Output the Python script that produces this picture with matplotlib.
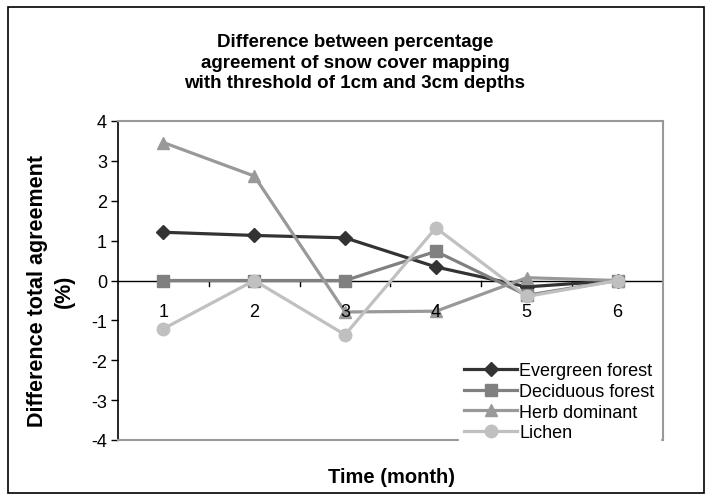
import matplotlib
matplotlib.use("Agg")
import matplotlib.pyplot as plt
from matplotlib.patches import Rectangle

plt.rcParams["font.family"] = ["Liberation Sans", "DejaVu Sans"]

months = [1, 2, 3, 4, 5, 6]
evergreen = [1.21, 1.13, 1.07, 0.34, -0.16, 0.0]
deciduous = [0.0, 0.0, 0.0, 0.73, -0.37, 0.0]
herb = [3.46, 2.62, -0.79, -0.77, 0.07, 0.0]
lichen = [-1.21, 0.0, -1.36, 1.32, -0.40, 0.0]
y_ticks = [-4, -3, -2, -1, 0, 1, 2, 3, 4]

W, H = 712, 502
fig = plt.figure(figsize=(W / 100, H / 100), dpi=100)
fig.patches.append(Rectangle((8 / W, 8 / H), 696 / W, 486 / H, transform=fig.transFigure,
                             fill=False, edgecolor="black", linewidth=1.2))

ax = fig.add_axes([118 / W, (H - 441) / H, (663 - 118) / W, (441 - 122) / H])

series = [
    ("Evergreen forest", evergreen, "#333333", "D", 7),
    ("Deciduous forest", deciduous, "#808080", "s", 8),
    ("Herb dominant", herb, "#999999", "^", 9),
    ("Lichen", lichen, "#c0c0c0", "o", 9),
]
for name, vals, col, mk, ms in series:
    ax.plot(months, vals, color=col, lw=2.3, marker=mk, ms=ms, mec=col, mfc=col,
            label=name, zorder=3)

ax.set_xlim(0.5, 6.5)
ax.set_ylim(-4, 4)
ax.set_yticks(y_ticks)
ax.set_yticklabels([str(t) for t in y_ticks], fontsize=13)
ax.tick_params(axis="y", direction="out", length=5, width=1, pad=3)

# x axis at zero with category-boundary ticks
ax.set_xticks([])
ax.axhline(0, color="black", lw=1, zorder=2)
for b in [1.5, 2.5, 3.5, 4.5, 5.5]:
    ax.plot([b, b], [0, -0.13], color="black", lw=1, zorder=2)
for m in months:
    ax.annotate(str(m), (m, 0), xytext=(0, -16), textcoords="offset points",
                ha="center", va="top", fontsize=13)

for s in ["top", "right", "bottom"]:
    ax.spines[s].set_color("#999999")
    ax.spines[s].set_linewidth(1.5)
ax.spines["left"].set_color("black")
ax.spines["left"].set_linewidth(1.2)

fig.text(355 / W, 1 - 63 / H,
         "Difference between percentage\nagreement of snow cover mapping\nwith threshold of 1cm and 3cm depths",
         ha="center", va="center", fontsize=13.5, fontweight="bold", linespacing=1.25)
fig.text(51 / W, 1 - 291 / H, "Difference total agreement\n(%)", rotation=90,
         ha="center", va="center", fontsize=15.5, fontweight="bold",
         multialignment="center", linespacing=1.35)
fig.text(392 / W, 1 - 478 / H, "Time (month)", ha="center", va="center",
         fontsize=14.5, fontweight="bold")

leg = fig.legend(loc="upper left", bbox_to_anchor=(459 / W, 1 - 358 / H), fontsize=13,
                 frameon=True, fancybox=False, handlelength=2.9, handletextpad=0.15,
                 labelspacing=0.2, borderpad=0.3, borderaxespad=0)
leg.get_frame().set_facecolor("white")
leg.get_frame().set_edgecolor("white")
leg.get_frame().set_alpha(1)

fig.savefig("out.png", dpi=100)
